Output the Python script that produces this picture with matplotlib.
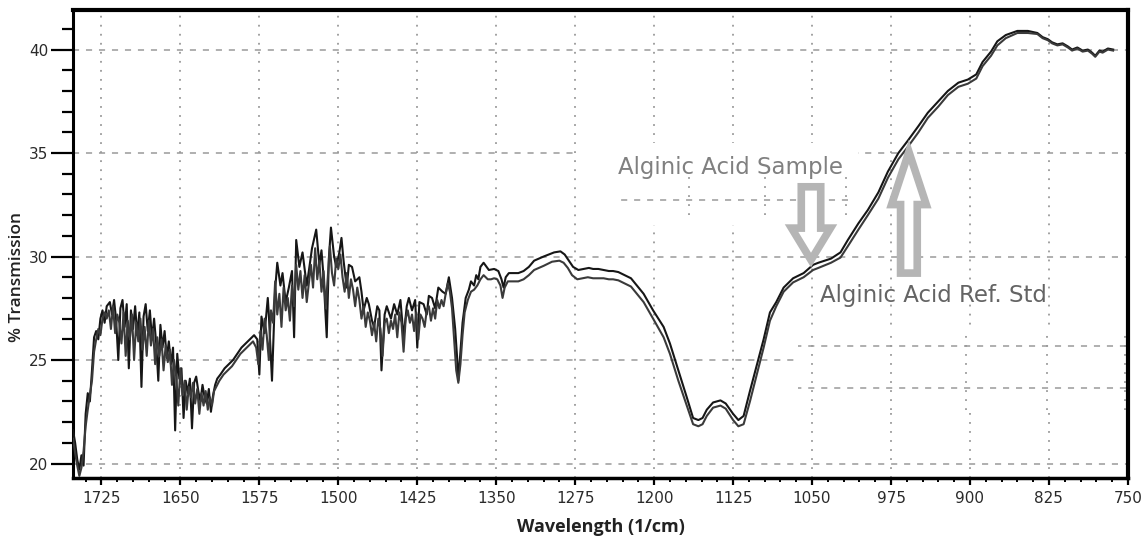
import matplotlib
matplotlib.use('Agg')
import matplotlib.pyplot as plt
from matplotlib.patches import FancyArrowPatch, Rectangle
from matplotlib.ticker import MultipleLocator

# (wavenumber, % transmission)
sample = [
    (1752, 21.6), (1750, 21.0), (1748, 20.2), (1746, 19.7), (1744, 20.4), (1742, 19.9),
    (1740, 22.4), (1738, 23.4), (1736, 23.0), (1734, 24.5), (1732, 26.1), (1730, 26.4),
    (1728, 26.0), (1726, 27.0), (1724, 27.4), (1722, 26.8), (1720, 27.6), (1717, 27.8),
    (1715, 27.2), (1713, 27.9), (1711, 26.9), (1709, 25.0), (1707, 27.5), (1705, 27.9),
    (1703, 26.6), (1701, 27.7), (1699, 24.6), (1697, 27.4), (1695, 26.5), (1693, 27.6),
    (1691, 26.2), (1689, 27.3), (1687, 23.7), (1685, 27.1), (1683, 27.7), (1681, 26.4),
    (1679, 27.4), (1677, 26.0), (1675, 27.0), (1673, 25.8), (1671, 24.0), (1669, 26.7),
    (1667, 25.6), (1665, 26.4), (1663, 25.1), (1661, 25.9), (1659, 24.8), (1657, 25.6),
    (1655, 21.6), (1653, 25.3), (1651, 24.1), (1649, 24.6), (1647, 22.2), (1645, 24.0),
    (1643, 23.4), (1641, 24.1), (1639, 21.7), (1637, 23.9), (1635, 24.2), (1633, 23.5),
    (1631, 23.0), (1629, 23.8), (1627, 23.2), (1625, 22.9), (1623, 23.6), (1621, 22.5),
    (1619, 23.3), (1617, 23.8), (1615, 24.1), (1612, 24.3), (1608, 24.6), (1604, 24.8),
    (1600, 25.0), (1596, 25.3), (1592, 25.6), (1588, 25.8), (1584, 26.0), (1580, 26.2),
    (1577, 26.0), (1575, 24.3), (1573, 27.1), (1570, 26.3), (1567, 28.0), (1566, 27.2),
    (1563, 24.0), (1560, 28.4), (1558, 29.7), (1555, 28.6), (1553, 29.2), (1550, 27.8),
    (1547, 28.5), (1544, 29.3), (1542, 26.1), (1540, 30.8), (1537, 29.5), (1534, 30.2),
    (1533, 29.8), (1530, 28.6), (1528, 29.3), (1525, 30.4), (1521, 31.3), (1518, 29.6),
    (1516, 30.3), (1514, 29.0), (1511, 26.1), (1509, 29.9), (1507, 31.4), (1504, 30.0),
    (1502, 29.5), (1499, 30.2), (1497, 30.9), (1495, 29.8), (1492, 28.5), (1490, 29.6),
    (1487, 29.5), (1484, 28.8), (1480, 29.0), (1478, 28.3), (1476, 27.4), (1473, 28.0),
    (1471, 27.7), (1468, 26.9), (1466, 26.6), (1463, 27.6), (1461, 27.4), (1459, 24.5),
    (1456, 27.2), (1454, 27.6), (1450, 27.0), (1447, 27.7), (1444, 27.2), (1441, 27.9),
    (1438, 26.1), (1435, 27.6), (1433, 28.0), (1430, 27.4), (1427, 27.9), (1425, 25.6),
    (1423, 27.8), (1419, 27.7), (1416, 27.2), (1414, 28.1), (1411, 28.0), (1408, 27.5),
    (1405, 28.5), (1401, 28.3), (1398, 28.2), (1395, 29.0), (1392, 28.0), (1389, 26.5),
    (1387, 25.0), (1386, 24.0), (1384, 25.4), (1382, 26.8), (1379, 28.0), (1376, 28.4),
    (1374, 28.8), (1371, 28.6), (1369, 29.1), (1367, 28.9), (1365, 29.5), (1362, 29.7),
    (1357, 29.35), (1352, 29.4), (1348, 29.3), (1345, 28.9), (1343, 28.5), (1341, 29.0),
    (1338, 29.2), (1329, 29.2), (1324, 29.3), (1319, 29.5), (1314, 29.8), (1305, 30.0),
    (1295, 30.2), (1289, 30.25), (1285, 30.1), (1281, 29.8), (1277, 29.5), (1272, 29.35),
    (1267, 29.4), (1262, 29.45), (1258, 29.4), (1253, 29.4), (1248, 29.35), (1243, 29.3),
    (1239, 29.3), (1234, 29.25), (1222, 28.95), (1210, 28.2), (1201, 27.4), (1191, 26.6),
    (1185, 25.8), (1177, 24.5), (1169, 23.2), (1163, 22.2), (1158, 22.1), (1154, 22.2),
    (1150, 22.6), (1144, 22.95), (1137, 23.05), (1132, 22.9), (1125, 22.4), (1120, 22.1),
    (1115, 22.3), (1109, 23.5), (1103, 24.65), (1096, 26.0), (1090, 27.3), (1084, 27.8),
    (1077, 28.5), (1068, 28.95), (1058, 29.2), (1049, 29.6), (1044, 29.7), (1032, 29.9),
    (1023, 30.2), (1016, 30.8), (1006, 31.6), (997, 32.25), (987, 33.1), (978, 34.1),
    (968, 35.0), (959, 35.6), (949, 36.3), (940, 36.95), (930, 37.5), (921, 38.0),
    (911, 38.4), (902, 38.55), (894, 38.8), (888, 39.4), (880, 39.9), (874, 40.4),
    (866, 40.7), (855, 40.9), (845, 40.9), (836, 40.8), (831, 40.6), (826, 40.5),
    (822, 40.35), (817, 40.25), (812, 40.3), (807, 40.15), (803, 40.0), (798, 40.1),
    (793, 39.95), (788, 40.0), (784, 39.85), (781, 39.7), (777, 39.95), (774, 39.9),
    (769, 40.05), (764, 40.0),
]

ref_std = [
    (1752, 21.2), (1750, 20.5), (1748, 19.9), (1746, 19.4), (1744, 19.8), (1742, 20.6),
    (1740, 21.8), (1738, 22.6), (1736, 23.3), (1734, 24.0), (1732, 25.4), (1730, 26.0),
    (1728, 26.5), (1726, 26.2), (1724, 27.0), (1722, 27.3), (1720, 27.0), (1718, 27.4),
    (1716, 26.5), (1714, 27.6), (1712, 26.3), (1710, 27.2), (1708, 26.8), (1706, 25.8),
    (1704, 27.3), (1702, 25.2), (1700, 26.9), (1698, 26.0), (1696, 27.2), (1694, 25.0),
    (1692, 26.8), (1690, 25.9), (1688, 27.0), (1686, 25.5), (1684, 26.6), (1682, 25.2),
    (1680, 26.9), (1678, 25.7), (1676, 26.5), (1674, 24.8), (1672, 26.1), (1670, 25.2),
    (1668, 26.0), (1666, 24.5), (1664, 25.7), (1662, 24.9), (1660, 25.5), (1658, 23.8),
    (1656, 25.0), (1654, 24.2), (1652, 22.8), (1650, 24.6), (1648, 23.3), (1646, 24.0),
    (1644, 22.6), (1642, 23.7), (1640, 23.2), (1638, 23.9), (1636, 22.9), (1634, 23.6),
    (1632, 22.4), (1630, 23.4), (1628, 22.8), (1626, 23.5), (1624, 22.6), (1622, 23.2),
    (1620, 22.8), (1618, 23.5), (1616, 23.7), (1613, 24.0), (1609, 24.3), (1605, 24.5),
    (1601, 24.7), (1597, 25.0), (1593, 25.3), (1589, 25.5), (1585, 25.7), (1581, 25.9),
    (1578, 25.6), (1576, 24.8), (1574, 26.4), (1572, 25.5), (1570, 27.0), (1568, 26.2),
    (1566, 25.0), (1564, 27.4), (1562, 26.8), (1560, 28.8), (1558, 27.2), (1556, 28.2),
    (1554, 26.6), (1552, 28.5), (1550, 27.4), (1548, 28.0), (1546, 26.9), (1544, 28.6),
    (1542, 27.6), (1540, 29.6), (1538, 28.4), (1536, 29.3), (1534, 28.0), (1532, 29.1),
    (1530, 27.8), (1528, 28.7), (1526, 29.6), (1524, 28.5), (1522, 30.4), (1520, 28.9),
    (1518, 29.8), (1516, 28.3), (1514, 29.3), (1512, 27.5), (1510, 29.0), (1508, 30.5),
    (1506, 29.2), (1504, 28.6), (1502, 29.9), (1500, 29.4), (1498, 30.1), (1496, 29.0),
    (1494, 28.3), (1492, 29.2), (1490, 28.0), (1488, 28.9), (1486, 28.4), (1484, 27.6),
    (1482, 28.5), (1480, 27.9), (1478, 27.0), (1476, 27.6), (1474, 26.6), (1472, 27.3),
    (1470, 26.9), (1468, 26.2), (1466, 26.8), (1464, 25.9), (1462, 27.0), (1460, 26.5),
    (1458, 25.2), (1456, 26.8), (1454, 27.0), (1452, 26.3), (1450, 26.9), (1448, 26.5),
    (1446, 27.2), (1444, 26.1), (1442, 27.3), (1440, 26.8), (1438, 25.4), (1436, 27.0),
    (1434, 27.4), (1432, 26.8), (1430, 27.2), (1428, 26.4), (1426, 27.3), (1424, 26.0),
    (1422, 27.2), (1420, 27.0), (1418, 26.6), (1416, 27.4), (1414, 27.6), (1412, 26.9),
    (1410, 27.5), (1408, 27.0), (1406, 27.9), (1404, 27.5), (1402, 27.9), (1400, 27.6),
    (1398, 28.2), (1396, 28.7), (1394, 28.3), (1392, 27.5), (1390, 26.0), (1388, 24.5),
    (1386, 23.9), (1384, 24.8), (1382, 26.2), (1380, 27.3), (1377, 27.9), (1374, 28.3),
    (1371, 28.4), (1368, 28.6), (1365, 28.9), (1362, 29.1), (1358, 28.9), (1355, 28.9),
    (1352, 28.95), (1349, 28.9), (1346, 28.6), (1344, 28.0), (1342, 28.5), (1339, 28.8),
    (1334, 28.8), (1329, 28.8), (1324, 28.9), (1319, 29.1), (1314, 29.35), (1305, 29.55),
    (1297, 29.75), (1290, 29.8), (1286, 29.7), (1282, 29.45), (1278, 29.1), (1273, 28.9),
    (1268, 28.95), (1263, 29.0), (1258, 28.95), (1253, 28.95), (1248, 28.95), (1243, 28.9),
    (1239, 28.9), (1234, 28.85), (1222, 28.55), (1210, 27.8), (1201, 27.0), (1191, 26.1),
    (1185, 25.3), (1177, 24.0), (1169, 22.8), (1163, 21.9), (1158, 21.8), (1154, 21.9),
    (1150, 22.3), (1144, 22.7), (1137, 22.8), (1132, 22.65), (1125, 22.1), (1120, 21.8),
    (1115, 21.9), (1109, 23.0), (1103, 24.2), (1096, 25.6), (1090, 26.9), (1084, 27.6),
    (1077, 28.3), (1068, 28.75), (1058, 29.0), (1049, 29.35), (1044, 29.45), (1032, 29.7),
    (1023, 29.95), (1016, 30.5), (1006, 31.3), (997, 32.0), (987, 32.8), (978, 33.8),
    (968, 34.7), (959, 35.3), (949, 36.0), (940, 36.7), (930, 37.25), (921, 37.8),
    (911, 38.2), (902, 38.35), (894, 38.6), (888, 39.2), (880, 39.7), (874, 40.2),
    (866, 40.55), (855, 40.8), (845, 40.8), (836, 40.75), (831, 40.55), (826, 40.45),
    (822, 40.3), (817, 40.2), (812, 40.25), (807, 40.1), (803, 39.95), (798, 40.05),
    (793, 39.9), (788, 39.95), (784, 39.8), (781, 39.65), (777, 39.9), (774, 39.85),
    (769, 40.0), (764, 39.95),
]

x_ticks = [1725, 1650, 1575, 1500, 1425, 1350, 1275, 1200, 1125, 1050, 975, 900, 825, 750]
y_ticks = [20, 25, 30, 35, 40]

sample_wn, sample_t = zip(*sample)
ref_wn, ref_t = zip(*ref_std)

fig = plt.figure(figsize=(11.41, 5.38), dpi=100)
ax = fig.add_axes([0.064, 0.1115, 0.9245, 0.8695])

ax.set_xlim(1752, 750)
ax.set_ylim(19.3, 41.9)
ax.set_axisbelow(True)

# grid: dashed horizontal, dotted vertical
ax.grid(True, axis='y', color='#9a9a9a', lw=1.1, ls=(0, (4, 4.5)))
ax.grid(True, axis='x', color='#9a9a9a', lw=1.3, ls=(0, (1, 4)))

# pasted label boxes from the original (they hide/shift the grid)
ax.add_patch(Rectangle((1006, 31.5), 266, 4.0, facecolor='white', edgecolor='none', zorder=1))
ax.hlines(32.74, 1016, 1232, color='#9a9a9a', lw=1.1, ls=(0, (4, 4.5)), zorder=1.5)
ax.vlines([1167, 1095, 1018], 32.0, 33.95, color='#9a9a9a', lw=1.3, ls=(0, (1, 4)), zorder=1.5)
ax.add_patch(Rectangle((752, 22.57), 311, 3.87, facecolor='white', edgecolor='none', zorder=1))
ax.hlines([25.67, 23.63], 752, 1063, color='#9a9a9a', lw=1.1, ls=(0, (4, 4.5)), zorder=1.5)
ax.vlines([1050, 975, 904, 827, 753], 22.6, 26.4, color='#9a9a9a', lw=1.3, ls=(0, (1, 4)), zorder=1.5)

ax.plot(sample_wn, sample_t, color='#161616', lw=1.5, zorder=3)
ax.plot(ref_wn, ref_t, color='#3a3a3a', lw=1.5, zorder=3)

ax.set_xticks(x_ticks)
ax.set_xticklabels([str(t) for t in x_ticks])
ax.set_yticks(y_ticks)
ax.xaxis.set_minor_locator(MultipleLocator(15))
ax.yaxis.set_minor_locator(MultipleLocator(1))
ax.tick_params(axis='y', which='major', length=16, width=1.6, direction='out', pad=2)
ax.tick_params(axis='y', which='minor', length=8, width=1.6, direction='out')
ax.tick_params(axis='x', which='major', length=5, width=1.6, direction='out', pad=4)
ax.tick_params(axis='x', which='minor', length=3, width=1.4, direction='out')
for lab in ax.get_xticklabels() + ax.get_yticklabels():
    lab.set_family(['Liberation Sans Narrow', 'DejaVu Sans'])
    lab.set_fontsize(11)
    lab.set_color('#2a2a2a')

ax.spines['top'].set_linewidth(3.0)
ax.spines['right'].set_linewidth(3.0)
ax.spines['left'].set_linewidth(2.2)
ax.spines['bottom'].set_linewidth(2.5)

ax.set_xlabel('Wavelength (1/cm)', fontsize=13, fontweight='bold', family='Open Sans', color='#222222')
ax.set_ylabel('% Transmission', fontsize=12.5, fontweight='semibold', family='Open Sans', color='#222222')
ax.xaxis.set_label_coords(0.5, -0.085)
ax.yaxis.set_label_coords(-0.046, 0.43)

# annotations
ax.text(1234, 34.3, 'Alginic Acid Sample', fontsize=16.5, family='DejaVu Sans', color='#808080',
        va='center', ha='left', zorder=5)
ax.text(1042, 28.1, 'Alginic Acid Ref. Std', fontsize=16.5, family='DejaVu Sans', color='#646464',
        va='center', ha='left', zorder=5)

down = FancyArrowPatch((1051, 33.37), (1051, 29.83), shrinkA=0, shrinkB=0,
                       arrowstyle='simple,head_length=23,head_width=28,tail_width=14',
                       facecolor='white', edgecolor='#b5b5b5', lw=5.5, joinstyle='miter', zorder=4)
up = FancyArrowPatch((958, 29.2), (958, 35.06), shrinkA=0, shrinkB=0,
                     arrowstyle='simple,head_length=38,head_width=25,tail_width=12',
                     facecolor='white', edgecolor='#b5b5b5', lw=5.5, joinstyle='miter', zorder=4)
ax.add_patch(down)
ax.add_patch(up)

plt.savefig('out.png', dpi=100)
